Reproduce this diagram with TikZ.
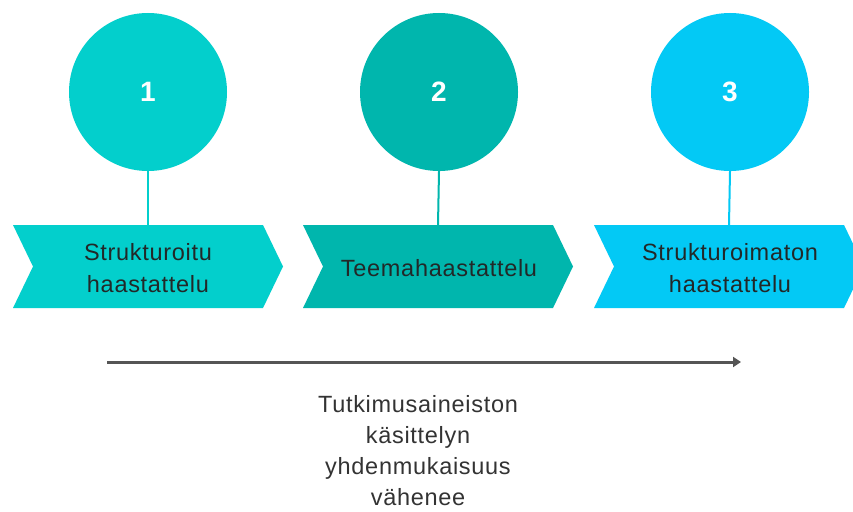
\documentclass[tikz,border=0pt]{standalone}
\usepackage{fontspec}
\setmainfont{Liberation Sans}
\newfontfamily\widefont[LetterSpace=3]{Liberation Sans}
\usetikzlibrary{arrows.meta}
\definecolor{cA}{RGB}{3,207,204}
\definecolor{cB}{RGB}{0,182,173}
\definecolor{cC}{RGB}{3,201,245}
\definecolor{txt}{RGB}{34,40,40}
\definecolor{arr}{RGB}{85,85,85}
\tikzset{
  bubble/.style={circle, fill=#1, minimum size=158pt, inner sep=0pt, text=white, font=\fontsize{28}{30}\selectfont\bfseries},
  stem/.style={draw=#1, line width=2pt},
  label/.style={text=txt, align=center, inner sep=0pt, font=\widefont\fontsize{23.5}{32}\selectfont},
}
\newcommand{\chevronat}[3]{% left x, colour, name
  \fill[#2] (#1,225) -- (#1+250,225) -- (#1+270,266.5) -- (#1+250,308) -- (#1,308) -- (#1+20,266.5) -- cycle;
  \coordinate (#3) at (#1+135,225);
}
\begin{document}
\begin{tikzpicture}[x=1pt,y=-1pt]
\useasboundingbox (0,0) rectangle (853,511);
\clip (0,0) rectangle (853,511);
\fill[white] (0,0) rectangle (853,511);
\chevronat{13}{cA}{t1}
\chevronat{303}{cB}{t2}
\chevronat{594}{cC}{t3}
\node[bubble=cA] (c1) at (148,92) {1};
\node[bubble=cB] (c2) at (439,92) {2};
\node[bubble=cC] (c3) at (730,92) {3};
\draw[stem=cA] (c1.south) -- (t1);
\draw[stem=cB] (c2.south) -- (t2);
\draw[stem=cC] (c3.south) -- (t3);
\node[label] (l1) at (148,268) {Strukturoitu\\haastattelu};
\node[label] (l2) at (439,268) {Teemahaastattelu};
\node[label] (l3) at (730,268) {Strukturoimaton\\haastattelu};
\coordinate (a0) at (107,362);
\coordinate (a1) at (741,362);
\draw[arr, line width=3pt, -{Triangle[length=8pt,width=10pt]}] (a0) -- (a1);
\node[label, anchor=south, text=black!80, font=\widefont\fontsize{23.5}{31}\selectfont] (bt) at (418,506) {Tutkimusaineiston\\käsittelyn\\yhdenmukaisuus\\vähenee};
\end{tikzpicture}
\end{document}
